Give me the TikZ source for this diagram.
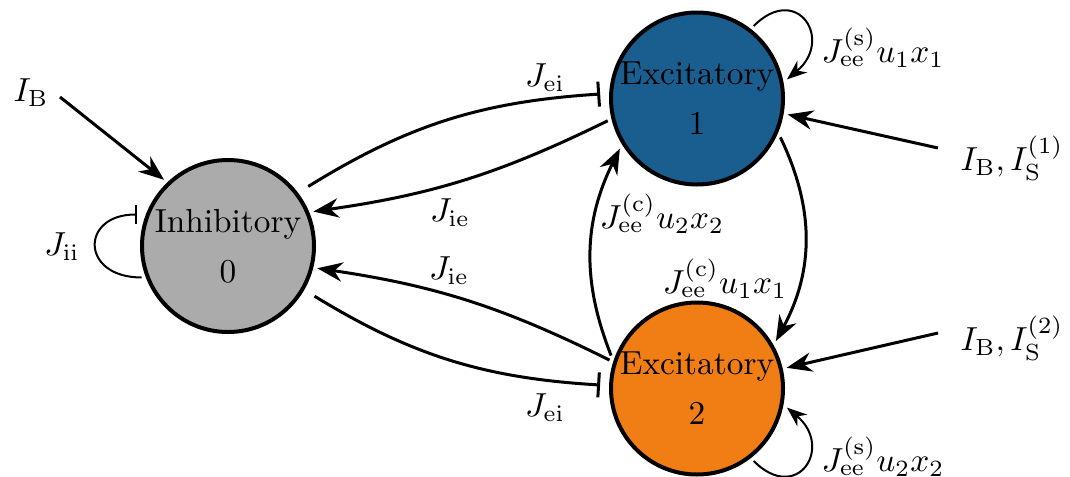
\documentclass[tikz,border=0pt]{standalone}
\usetikzlibrary{arrows.meta,calc}
\definecolor{inhfill}{RGB}{171,171,171}
\definecolor{exafill}{RGB}{26,94,144}
\definecolor{exbfill}{RGB}{240,126,20}
\begin{document}
\begin{tikzpicture}[x=0.3pt,y=0.3pt,
  popnode/.style={circle, draw=black, line width=1.2pt, minimum size=51.6pt, inner sep=0pt,
    outer sep=1.8pt, align=center, font=\fontsize{10}{15}\selectfont},
  excarrow/.style={-{Stealth[length=7.6pt,width=5.8pt]}, line width=0.9pt},
  inharrow/.style={-{Bar[width=7.5pt]}, line width=0.9pt, shorten <=2.4pt, shorten >=1.5pt},
  loopexc/.style={-{Stealth[length=6pt,width=4.6pt]}, line width=0.6pt},
  loopinh/.style={-{Bar[width=5.5pt]}, line width=0.6pt, shorten >=1.5pt},
  lbl/.style={inner sep=0pt}
]
\useasboundingbox (0,0) rectangle (1070,476);

\node[popnode, fill=inhfill] (inh) at (228,230) {Inhibitory\\0};
\node[popnode, fill=exafill] (e1) at (697,377.5) {Excitatory\\1};
\node[popnode, fill=exbfill] (e2) at (697,87.5) {Excitatory\\2};

% labels
\node[lbl] (lib) at (31,383) {$I_{\mathrm{B}}$};
\node[lbl] (ljii) at (62,229) {$J_{\mathrm{ii}}$};
\node[lbl] (ljei1) at (545,398) {$J_{\mathrm{ei}}$};
\node[lbl] (ljie1) at (450,263) {$J_{\mathrm{ie}}$};
\node[lbl] (ljie2) at (449,205) {$J_{\mathrm{ie}}$};
\node[lbl] (ljei2) at (545,68) {$J_{\mathrm{ei}}$};
\node[lbl] (lc2) at (662,262) {$J_{\mathrm{ee}}^{(\mathrm{c})}u_2x_2$};
\node[lbl] (lc1) at (725,197) {$J_{\mathrm{ee}}^{(\mathrm{c})}u_1x_1$};
\node[lbl] (ls1) at (883,428) {$J_{\mathrm{ee}}^{(\mathrm{s})}u_1x_1$};
\node[lbl] (ls2) at (883,19) {$J_{\mathrm{ee}}^{(\mathrm{s})}u_2x_2$};
\node[lbl] (li1) at (1012,318) {$I_{\mathrm{B}}, I_{\mathrm{S}}^{(1)}$};
\node[lbl] (li2) at (1012,138) {$I_{\mathrm{B}}, I_{\mathrm{S}}^{(2)}$};

% free ends of input arrows
\coordinate (ibs) at (60,379);
\coordinate (i1s) at (938,328);
\coordinate (i2s) at (938,143);

% inputs
\draw[excarrow] (ibs) -- (inh.134);
\draw[excarrow] (i1s) -- (e1.350);
\draw[excarrow] (i2s) -- (e2.13);

% inhibitory <-> excitatory
\draw[inharrow] (inh.37) to[bend left=14] (e1.177);
\draw[excarrow] (e1.194) to[bend left=9] (inh.22);
\draw[excarrow] (e2.162) to[bend right=9] (inh.346);
\draw[inharrow] (inh.330) to[bend right=14] (e2.178);

% excitatory <-> excitatory
\draw[excarrow] (e2.159) to[bend left=24] (e1.213);
\draw[excarrow] (e1.335) to[bend left=27] (e2.31);

% self loops
\draw[loopexc] (e1.52) to[out=45,in=40,looseness=2.5] (e1.12);
\draw[loopexc] (e2.308) to[out=-45,in=-40,looseness=2.5] (e2.348);
\draw[loopinh] (inh.200) to[out=180,in=180,looseness=2.5] (inh.160);
\end{tikzpicture}
\end{document}
